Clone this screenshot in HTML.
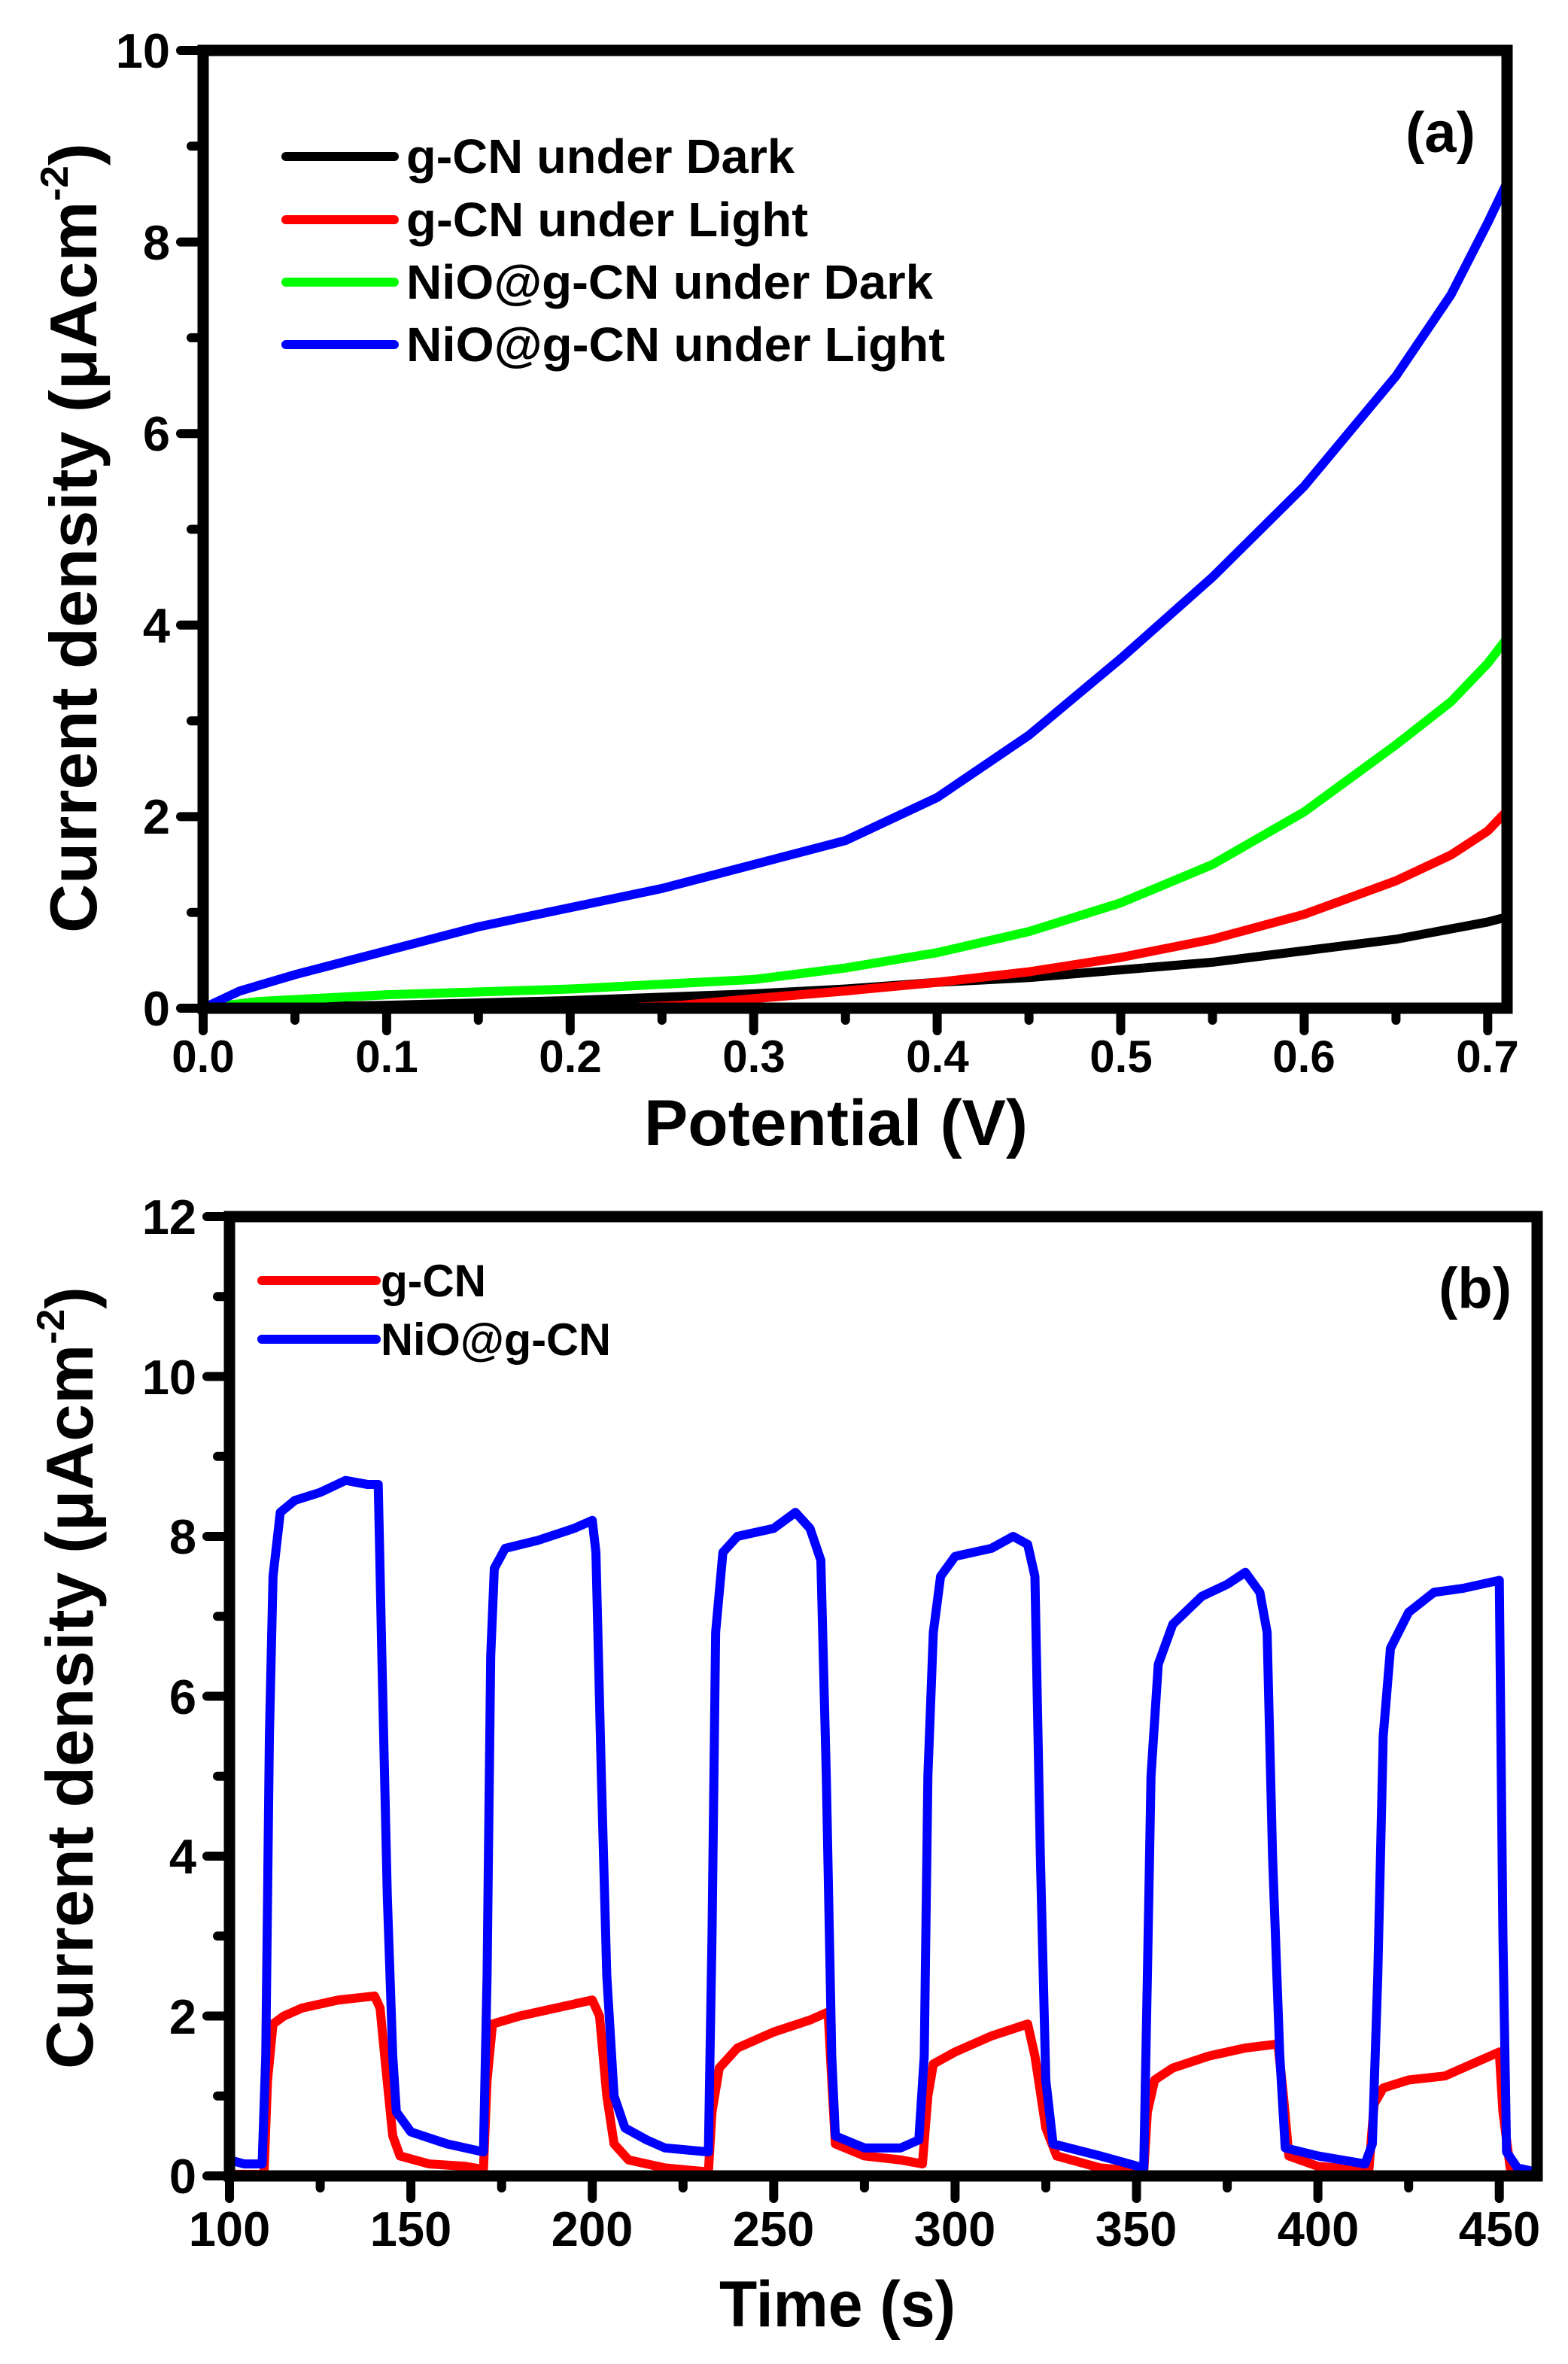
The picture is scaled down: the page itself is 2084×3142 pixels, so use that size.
<!DOCTYPE html>
<html><head><meta charset="utf-8"><style>html,body{margin:0;padding:0;background:#fff}svg{display:block}text{font-family:"Liberation Sans",Arial,sans-serif;font-weight:bold;fill:#000}</style></head>
<body>
<svg width="2084" height="3142" viewBox="0 0 2084 3142" xmlns="http://www.w3.org/2000/svg">
<!-- Panel A -->
<g fill="none" stroke-linejoin="round" stroke-linecap="round" stroke-width="12">
<g transform="translate(270,1340) scale(2439,-127.3)">
<polyline vector-effect="non-scaling-stroke" stroke="#000" points="0,0 0.1,0.03 0.2,0.08 0.3,0.15 0.35,0.2 0.4,0.27 0.45,0.32 0.5,0.4 0.55,0.48 0.6,0.6 0.65,0.72 0.7,0.9 0.71,0.95"/>
<polyline vector-effect="non-scaling-stroke" stroke="#ff0000" points="0.22,0 0.26,0.03 0.3,0.1 0.35,0.18 0.4,0.27 0.45,0.38 0.5,0.53 0.55,0.72 0.6,0.98 0.65,1.33 0.68,1.6 0.7,1.85 0.71,2.05"/>
<polyline vector-effect="non-scaling-stroke" stroke="#00ff00" points="0,0 0.03,0.07 0.06,0.1 0.1,0.14 0.15,0.17 0.2,0.2 0.25,0.25 0.3,0.3 0.35,0.42 0.4,0.58 0.45,0.8 0.5,1.1 0.55,1.5 0.6,2.05 0.65,2.75 0.68,3.2 0.7,3.6 0.71,3.85"/>
<polyline vector-effect="non-scaling-stroke" stroke="#0000ff" points="0,0 0.02,0.18 0.05,0.35 0.1,0.6 0.15,0.85 0.2,1.05 0.25,1.25 0.3,1.5 0.35,1.75 0.4,2.2 0.45,2.85 0.5,3.65 0.55,4.5 0.6,5.45 0.65,6.6 0.68,7.45 0.7,8.2 0.71,8.6"/>
</g>
</g>
<rect x="270" y="67" width="1733" height="1273" fill="none" stroke="#000" stroke-width="15"/>
<path stroke="#000" stroke-width="12" stroke-linecap="round" fill="none" d="M270,1340v30M513.9,1340v30M757.8,1340v30M1001.7,1340v30M1245.6,1340v30M1489.5,1340v30M1733.4,1340v30M1977.3,1340v30
M392,1340v16M635.8,1340v16M879.8,1340v16M1123.7,1340v16M1367.6,1340v16M1611.5,1340v16M1855.4,1340v16
M270,1340h-30M270,1085.4h-30M270,830.8h-30M270,576.2h-30M270,321.6h-30M270,67h-30
M270,1212.7h-16M270,958.1h-16M270,703.5h-16M270,448.9h-16M270,194.3h-16"/>
<g font-size="65" text-anchor="end">
<text x="226" y="1363">0</text><text x="226" y="1108">2</text><text x="226" y="854">4</text><text x="226" y="599">6</text><text x="226" y="345">8</text><text x="226" y="90">10</text>
</g>
<g font-size="60" text-anchor="middle">
<text x="270" y="1425">0.0</text><text x="514" y="1425">0.1</text><text x="758" y="1425">0.2</text><text x="1002" y="1425">0.3</text><text x="1246" y="1425">0.4</text><text x="1490" y="1425">0.5</text><text x="1733" y="1425">0.6</text><text x="1977" y="1425">0.7</text>
</g>
<text x="856" y="1522" font-size="86" textLength="510" lengthAdjust="spacingAndGlyphs">Potential (V)</text>
<text transform="translate(128,1240) rotate(-90)" font-size="88" textLength="1050" lengthAdjust="spacingAndGlyphs">Current density (μAcm<tspan dy="-38" font-size="52">-2</tspan><tspan dy="38">)</tspan></text>
<text x="1868" y="202" font-size="76">(a)</text>
<g stroke-width="12" stroke-linecap="round">
<line x1="380" y1="208" x2="524" y2="208" stroke="#000"/>
<line x1="380" y1="292" x2="524" y2="292" stroke="#ff0000"/>
<line x1="380" y1="375" x2="524" y2="375" stroke="#00ff00"/>
<line x1="380" y1="458" x2="524" y2="458" stroke="#0000ff"/>
</g>
<g font-size="64">
<text x="540" y="230" textLength="516" lengthAdjust="spacingAndGlyphs">g-CN under Dark</text>
<text x="540" y="314" textLength="534" lengthAdjust="spacingAndGlyphs">g-CN under Light</text>
<text x="540" y="397" textLength="700" lengthAdjust="spacingAndGlyphs">NiO@g-CN under Dark</text>
<text x="540" y="480" textLength="716" lengthAdjust="spacingAndGlyphs">NiO@g-CN under Light</text>
</g>

<!-- Panel B -->
<g fill="none" stroke-linejoin="round" stroke-linecap="round" stroke-width="12">
<g transform="translate(-177.2,2892) scale(4.822,-106.25)">
<polyline vector-effect="non-scaling-stroke" stroke="#ff0000" points="100,0.02 109.5,0.02 110.5,1.2 112,1.9 115,2.0 120,2.1 130,2.2 140,2.25 141.5,2.1 143,1.4 145,0.5 147,0.25 155,0.15 165,0.12 170,0.08 171,1.2 172.5,1.9 180,2.0 190,2.1 200,2.2 202,2.0 204,1.0 206,0.4 210,0.2 220,0.1 232,0.05 233,0.8 235,1.35 240,1.6 250,1.8 260,1.95 265,2.05 266,1.2 267,0.4 275,0.25 285,0.2 291,0.15 292.5,1.0 294,1.4 300,1.55 310,1.75 320,1.9 322,1.5 325,0.6 328,0.25 340,0.1 352,0.05 353,0.8 355,1.2 360,1.35 370,1.5 380,1.6 389,1.65 390.5,1.0 392,0.25 400,0.12 410,0.08 414,0.05 415.5,0.9 418,1.1 425,1.2 435,1.25 445,1.45 450,1.55 451,0.8 453,0.1 458,0.02"/>
<polyline vector-effect="non-scaling-stroke" stroke="#0000ff" points="100,0.2 104,0.15 109,0.15 110,1.5 111,5.5 112,7.5 114,8.3 118,8.45 125,8.55 132,8.7 138,8.65 141,8.65 142,6.5 143.5,3.5 145,1.5 146,0.8 150,0.55 160,0.4 170,0.3 171,2.5 172,6.5 173,7.6 176,7.85 185,7.95 195,8.1 200,8.2 201,7.8 202.5,5 204,2.5 206,1.0 209,0.6 215,0.45 220,0.35 232,0.3 233,3 234,6.8 236,7.8 240,8.0 250,8.1 256,8.3 260,8.1 263,7.7 264.5,5 266,1.5 267,0.5 275,0.35 285,0.35 290,0.45 291.5,1.5 292.5,5 294,6.8 296,7.5 300,7.75 310,7.85 316,8.0 320,7.9 322,7.5 323.5,4 325,1.2 327,0.4 340,0.25 352,0.1 353,2.5 354,5 356,6.4 360,6.9 368,7.25 375,7.4 380,7.55 384,7.3 386,6.8 387.5,4 389.5,1.5 391,0.35 400,0.25 413,0.15 415,0.4 416.5,2.5 418,5.5 420,6.6 425,7.05 432,7.3 440,7.35 450,7.45 451,3 452,0.3 455,0.1 460,0.05"/>
</g>
</g>
<rect x="305" y="1617" width="1738" height="1275" fill="none" stroke="#000" stroke-width="15"/>
<path stroke="#000" stroke-width="12" stroke-linecap="round" fill="none" d="M305,2892v30M546.1,2892v30M787.2,2892v30M1028.3,2892v30M1269.4,2892v30M1510.5,2892v30M1751.6,2892v30M1992.7,2892v30
M425.6,2892v16M666.7,2892v16M907.8,2892v16M1148.9,2892v16M1390,2892v16M1631.1,2892v16M1872.2,2892v16
M305,2892h-30M305,2679.5h-30M305,2467h-30M305,2254.5h-30M305,2042h-30M305,1829.5h-30M305,1617h-30
M305,2785.75h-16M305,2573.25h-16M305,2360.75h-16M305,2148.25h-16M305,1935.75h-16M305,1723.25h-16"/>
<g font-size="65" text-anchor="end">
<text x="261" y="2915">0</text><text x="261" y="2703">2</text><text x="261" y="2490">4</text><text x="261" y="2278">6</text><text x="261" y="2065">8</text><text x="261" y="1853">10</text><text x="261" y="1640">12</text>
</g>
<g font-size="65" text-anchor="middle">
<text x="305" y="2985">100</text><text x="546" y="2985">150</text><text x="787" y="2985">200</text><text x="1028" y="2985">250</text><text x="1269" y="2985">300</text><text x="1510" y="2985">350</text><text x="1752" y="2985">400</text><text x="1993" y="2985">450</text>
</g>
<text x="956" y="3092" font-size="86" textLength="314" lengthAdjust="spacingAndGlyphs">Time (s)</text>
<text transform="translate(123,2750) rotate(-90)" font-size="88" textLength="1040" lengthAdjust="spacingAndGlyphs">Current density (μAcm<tspan dy="-38" font-size="52">-2</tspan><tspan dy="38">)</tspan></text>
<text x="1912" y="1738" font-size="76">(b)</text>
<g stroke-width="12" stroke-linecap="round">
<line x1="348" y1="1702" x2="500" y2="1702" stroke="#ff0000"/>
<line x1="348" y1="1780" x2="500" y2="1780" stroke="#0000ff"/>
</g>
<g font-size="60">
<text x="506" y="1723" textLength="140" lengthAdjust="spacingAndGlyphs">g-CN</text>
<text x="506" y="1801" textLength="306" lengthAdjust="spacingAndGlyphs">NiO@g-CN</text>
</g>
</svg>
</body></html>
